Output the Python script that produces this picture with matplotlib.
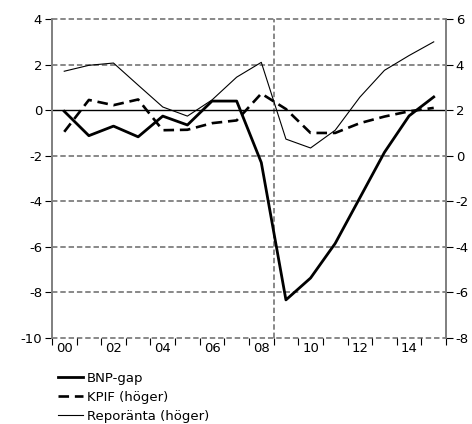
import numpy as np
import matplotlib
matplotlib.use("Agg")
import matplotlib.pyplot as plt

# years (data plotted at the middle of each year)
years = np.arange(2000, 2016)

# BNP-gap, left axis
bnp_gap = [-0.05, -1.12, -0.7, -1.17, -0.26, -0.65, 0.4, 0.4, -2.3,
           -8.33, -7.37, -5.85, -3.85, -1.85, -0.25, 0.58]
# KPIF, right axis
kpif = [1.05, 2.45, 2.22, 2.47, 1.12, 1.14, 1.43, 1.55, 2.73,
        2.05, 1.0, 1.0, 1.43, 1.72, 1.95, 2.1]
# Reporänta, right axis
repo = [3.71, 3.97, 4.07, 3.1, 2.14, 1.74, 2.45, 3.45, 4.1,
        0.73, 0.34, 1.12, 2.57, 3.75, 4.4, 5.0]

left_ticks = [4, 2, 0, -2, -4, -6, -8, -10]
right_ticks = [6, 4, 2, 0, -2, -4, -6, -8]
year_labels = ["00", "02", "04", "06", "08", "10", "12", "14"]

plt.rcParams["font.family"] = "DejaVu Sans"
plt.rcParams["font.size"] = 9.5

fig = plt.figure(figsize=(4.72, 4.24), dpi=100)
ax = fig.add_axes([0.110, 0.203, 0.835, 0.752])
ax2 = ax.twinx()

grey = "#7f7f7f"
x = years + 0.5

# grid lines
for v in left_ticks:
    if v == 0:
        continue
    ax.axhline(v, color=grey, lw=1.3, ls=(0, (3, 1.6)), zorder=1, clip_on=False)
ax.axhline(0, color="black", lw=1.0, zorder=2)
ax.axvline(2009, color=grey, lw=1.3, ls=(0, (3, 1.6)), zorder=1)

l1, = ax.plot(x, bnp_gap, color="black", lw=2.0, zorder=4, label="BNP-gap")
l2, = ax2.plot(x, kpif, color="black", lw=1.9, ls=(0, (4, 2.2)), zorder=4,
               label="KPIF (höger)")
l3, = ax2.plot(x, repo, color="black", lw=0.8, zorder=4, label="Reporänta (höger)")

ax.set_xlim(2000, 2016)
ax.set_ylim(-10, 4)
ax2.set_ylim(-8, 6)

ax.set_yticks(left_ticks)
ax.set_yticklabels([str(v) for v in left_ticks])
ax2.set_yticks(right_ticks)
ax2.set_yticklabels([str(v) for v in right_ticks])

ax.set_xticks(np.arange(2000, 2017))
ax.set_xticklabels([])
ax.set_xticks(np.arange(2000, 2016, 2) + 0.5, minor=True)
ax.set_xticklabels(year_labels, minor=True)
ax.tick_params(axis="x", which="minor", length=0, pad=3)
ax.tick_params(axis="x", which="major", length=5, color="black", width=0.8)
ax.tick_params(axis="y", length=5, color="black", width=0.8, pad=2)
ax2.tick_params(axis="y", length=5, color="black", width=0.8, pad=2)

for a in (ax, ax2):
    a.spines["top"].set_visible(False)
    a.spines["bottom"].set_visible(False)
    a.spines["left"].set_color(grey)
    a.spines["right"].set_color(grey)
    a.spines["left"].set_linewidth(1.2)
    a.spines["right"].set_linewidth(1.2)

fig.legend(handles=[l1, l2, l3], loc="upper left",
           bbox_to_anchor=(0.122, 0.123), frameon=False,
           handlelength=1.9, handletextpad=0.3, labelspacing=0.45,
           borderaxespad=0, borderpad=0)

fig.savefig("out.png", dpi=100)
